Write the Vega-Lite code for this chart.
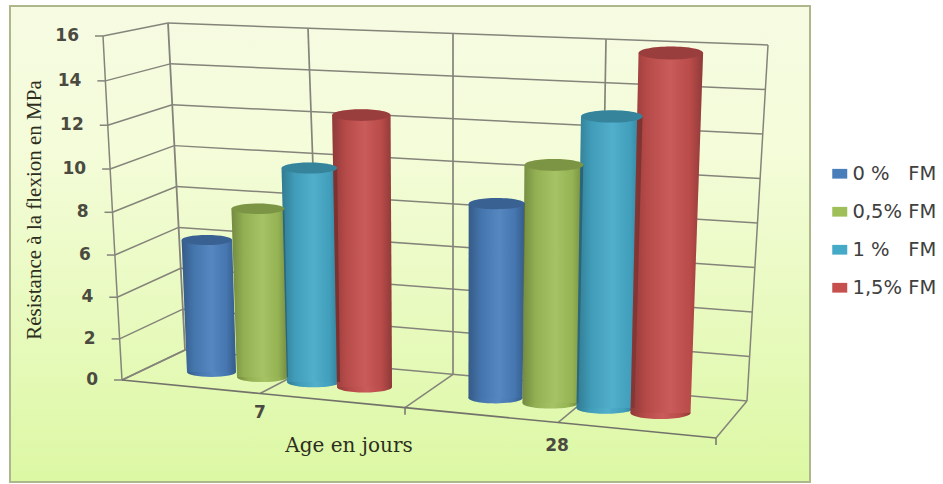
{
  "$schema": "https://vega.github.io/schema/vega-lite/v6.json",
  "width": 800,
  "height": 476,
  "padding": {"left": 10, "top": 6, "right": 133, "bottom": 2},
  "autosize": {"type": "none"},
  "background": "#ffffff",
  "view": {
    "stroke": "#aeb78c",
    "strokeWidth": 2,
    "fill": {
      "gradient": "linear",
      "x1": 0, "y1": 0, "x2": 0, "y2": 1,
      "stops": [
        {"offset": 0, "color": "#f6fbe2"},
        {"offset": 0.3, "color": "#f4fcd9"},
        {"offset": 1, "color": "#dcf8a4"}
      ]
    }
  },
  "datasets": {
    "bars": [
      {"age": 7, "fm": "0 %\u00a0\u00a0\u00a0FM", "value": 6.2},
      {"age": 7, "fm": "0,5% FM", "value": 7.8},
      {"age": 7, "fm": "1 %\u00a0\u00a0\u00a0FM", "value": 9.8},
      {"age": 7, "fm": "1,5% FM", "value": 12.3},
      {"age": 28, "fm": "0 %\u00a0\u00a0\u00a0FM", "value": 8.2},
      {"age": 28, "fm": "0,5% FM", "value": 10},
      {"age": 28, "fm": "1 %\u00a0\u00a0\u00a0FM", "value": 12.2},
      {"age": 28, "fm": "1,5% FM", "value": 15}
    ],
    "ticks": [
      {"v": 0}, {"v": 2}, {"v": 4}, {"v": 6}, {"v": 8},
      {"v": 10}, {"v": 12}, {"v": 14}, {"v": 16}
    ],
    "floorLines": [{"t": 0}, {"t": 1}, {"t": 2}, {"t": 3}, {"t": 4}],
    "wallLines": [{"t": 1}, {"t": 2}, {"t": 3}],
    "ages": [{"age": "7", "k": 0}, {"age": "28", "k": 1}],
    "xTitle": [{"label": "Age en jours"}],
    "yTitle": [{"label": "Résistance à la flexion en MPa"}]
  },
  "layer": [
    {
      "data": {"name": "ticks"},
      "transform": [
        {"calculate": "122-19*datum.v/16", "as": "fx"},
        {"calculate": "datum.v-0.003125*datum.v*(16-datum.v)", "as": "fy"},
        {"calculate": "185-17*datum.v/16", "as": "bx"},
        {"calculate": "1.395+0.9506*datum.v", "as": "by"},
        {"calculate": "747+21*datum.v/16", "as": "rx"},
        {"calculate": "-0.977+1.0349*datum.v", "as": "ry"},
        {"calculate": "datum.fx-8", "as": "tx"},
        {"calculate": "datum.fx-24", "as": "lx"}
      ],
      "layer": [
        {
          "mark": {"type": "rule", "color": "#84847a", "strokeWidth": 1.5},
          "encoding": {
            "x": {"field": "fx", "type": "quantitative", "scale": {"domain": [10, 810], "nice": false, "zero": false}, "axis": null},
            "x2": {"field": "bx"},
            "y": {"field": "fy", "type": "quantitative", "scale": {"domain": [-4.744, 17.395], "nice": false, "zero": false}, "axis": null},
            "y2": {"field": "by"}
          }
        },
        {
          "mark": {"type": "rule", "color": "#84847a", "strokeWidth": 1.5},
          "encoding": {
            "x": {"field": "bx", "type": "quantitative", "scale": {"domain": [10, 810], "nice": false, "zero": false}, "axis": null},
            "x2": {"field": "rx"},
            "y": {"field": "by", "type": "quantitative", "scale": {"domain": [-4.744, 17.395], "nice": false, "zero": false}, "axis": null},
            "y2": {"field": "ry"}
          }
        },
        {
          "mark": {"type": "rule", "color": "#84847a", "strokeWidth": 1.5},
          "encoding": {
            "x": {"field": "tx", "type": "quantitative", "scale": {"domain": [10, 810], "nice": false, "zero": false}, "axis": null},
            "x2": {"field": "fx"},
            "y": {"field": "fy", "type": "quantitative", "scale": {"domain": [-4.744, 17.395], "nice": false, "zero": false}, "axis": null}
          }
        },
        {
          "mark": {"type": "line", "color": "#84847a", "strokeWidth": 1.5},
          "encoding": {
            "x": {"field": "fx", "type": "quantitative", "scale": {"domain": [10, 810], "nice": false, "zero": false}, "axis": null},
            "y": {"field": "fy", "type": "quantitative", "scale": {"domain": [-4.744, 17.395], "nice": false, "zero": false}, "axis": null},
            "order": {"field": "v"}
          }
        },
        {
          "mark": {"type": "line", "color": "#84847a", "strokeWidth": 1.8},
          "encoding": {
            "x": {"field": "bx", "type": "quantitative", "scale": {"domain": [10, 810], "nice": false, "zero": false}, "axis": null},
            "y": {"field": "by", "type": "quantitative", "scale": {"domain": [-4.744, 17.395], "nice": false, "zero": false}, "axis": null},
            "order": {"field": "v"}
          }
        },
        {
          "mark": {"type": "line", "color": "#84847a", "strokeWidth": 1.5},
          "encoding": {
            "x": {"field": "rx", "type": "quantitative", "scale": {"domain": [10, 810], "nice": false, "zero": false}, "axis": null},
            "y": {"field": "ry", "type": "quantitative", "scale": {"domain": [-4.744, 17.395], "nice": false, "zero": false}, "axis": null},
            "order": {"field": "v"}
          }
        },
        {
          "mark": {"type": "text", "align": "right", "baseline": "middle", "font": "DejaVu Sans", "fontSize": 17, "color": "#4a4a40", "fontWeight": "bold"},
          "encoding": {
            "x": {"field": "lx", "type": "quantitative", "scale": {"domain": [10, 810], "nice": false, "zero": false}, "axis": null},
            "y": {"field": "fy", "type": "quantitative", "scale": {"domain": [-4.744, 17.395], "nice": false, "zero": false}, "axis": null},
            "text": {"field": "v", "type": "nominal"}
          }
        }
      ]
    },
    {
      "data": {"name": "wallLines"},
      "transform": [
        {"calculate": "[308,453,606][datum.t-1]", "as": "xTop"},
        {"calculate": "[320,453,600][datum.t-1]", "as": "xBot"},
        {"calculate": "(380-(23+(datum.xTop-168)*22/600))/21.5", "as": "yTop"},
        {"calculate": "(380-(350+(datum.xBot-185)*51/562))/21.5", "as": "yBot"}
      ],
      "mark": {"type": "rule", "color": "#84847a", "strokeWidth": 1.7},
      "encoding": {
        "x": {"field": "xTop", "type": "quantitative", "scale": {"domain": [10, 810], "nice": false, "zero": false}, "axis": null},
        "x2": {"field": "xBot"},
        "y": {"field": "yTop", "type": "quantitative", "scale": {"domain": [-4.744, 17.395], "nice": false, "zero": false}, "axis": null},
        "y2": {"field": "yBot"}
      }
    },
    {
      "data": {"name": "floorLines"},
      "transform": [
        {"calculate": "[122,260,405,558,716][datum.t]", "as": "xFront"},
        {"calculate": "[185,320,453,600,747][datum.t]", "as": "xBack"},
        {"calculate": "(380-(380+(datum.xFront-122)*58/594))/21.5", "as": "yFront"},
        {"calculate": "(380-(350+(datum.xBack-185)*51/562))/21.5", "as": "yBack"},
        {"calculate": "datum.yFront-0.33", "as": "yTick"}
      ],
      "layer": [
        {
          "mark": {"type": "rule", "color": "#84847a", "strokeWidth": 1.5},
          "encoding": {
            "x": {"field": "xFront", "type": "quantitative", "scale": {"domain": [10, 810], "nice": false, "zero": false}, "axis": null},
            "x2": {"field": "xBack"},
            "y": {"field": "yFront", "type": "quantitative", "scale": {"domain": [-4.744, 17.395], "nice": false, "zero": false}, "axis": null},
            "y2": {"field": "yBack"}
          }
        },
        {
          "mark": {"type": "line", "color": "#72726a", "strokeWidth": 1.6},
          "encoding": {
            "x": {"field": "xFront", "type": "quantitative", "scale": {"domain": [10, 810], "nice": false, "zero": false}, "axis": null},
            "y": {"field": "yFront", "type": "quantitative", "scale": {"domain": [-4.744, 17.395], "nice": false, "zero": false}, "axis": null}
          }
        },
        {
          "transform": [{"filter": "datum.t==2||datum.t==4"}],
          "mark": {"type": "rule", "color": "#72726a", "strokeWidth": 1.5},
          "encoding": {
            "x": {"field": "xFront", "type": "quantitative", "scale": {"domain": [10, 810], "nice": false, "zero": false}, "axis": null},
            "y": {"field": "yFront", "type": "quantitative", "scale": {"domain": [-4.744, 17.395], "nice": false, "zero": false}, "axis": null},
            "y2": {"field": "yTick"}
          }
        }
      ]
    },
    {
      "data": {"name": "bars"},
      "transform": [
        {"calculate": "datum.age==7?0:1", "as": "i"},
        {"calculate": "indexof(['0 %\u00a0\u00a0\u00a0FM','0,5% FM','1 %\u00a0\u00a0\u00a0FM','1,5% FM'],datum.fm)", "as": "j"},
        {"calculate": "datum.age+'-'+datum.j", "as": "id"},
        {"calculate": "211.5+51*datum.j+datum.i*(284+4*datum.j)", "as": "xb"},
        {"calculate": "49+2*datum.j+5*datum.i", "as": "wb"},
        {"calculate": "datum.xb+datum.value*0.0032*(datum.xb-445)", "as": "xt"},
        {"calculate": "datum.wb*(1+datum.value*0.005)", "as": "wt"},
        {"calculate": "(380-(372+5*datum.j+26*datum.i))/21.5", "as": "yBase"},
        {"calculate": "datum.yBase+datum.value*(21.3+2.4*datum.i+(0.27-0.17*datum.i)*datum.j)/21.5", "as": "yTop"},
        {"calculate": "datum.wb*datum.wb", "as": "sizeBase"},
        {"calculate": "datum.wt*datum.wt", "as": "sizeTop"}
      ],
      "layer": [
        {
          "mark": {"type": "point", "shape": "M-1,0A1,0.2,0,1,0,1,0A1,0.2,0,1,0,-1,0Z", "filled": true, "opacity": 1},
          "encoding": {
            "x": {"field": "xb", "type": "quantitative", "scale": {"domain": [10, 810], "nice": false, "zero": false}, "axis": null},
            "y": {"field": "yBase", "type": "quantitative", "scale": {"domain": [-4.744, 17.395], "nice": false, "zero": false}, "axis": null},
            "size": {"field": "sizeBase", "type": "quantitative", "scale": null},
            "color": {
              "field": "fm", "type": "nominal",
              "scale": {"domain": ["0 %\u00a0\u00a0\u00a0FM", "0,5% FM", "1 %\u00a0\u00a0\u00a0FM", "1,5% FM"], "range": ["#4a7ebb", "#9fbf59", "#45a9c8", "#c5504e"]},
              "legend": {"title": null, "orient": "none", "legendX": 820, "legendY": 158, "symbolType": "M-1,-0.65H1V0.65H-1Z", "symbolSize": 225, "symbolStrokeWidth": 0, "labelFont": "DejaVu Sans", "labelFontSize": 19.5, "labelColor": "#404040", "labelOffset": 3, "rowPadding": 17, "labelLimit": 130}
            }
          }
        },
        {
          "mark": {"type": "point", "shape": "M-1,0A1,0.2,0,1,0,1,0A1,0.2,0,1,0,-1,0Z", "filled": true, "opacity": 1,
            "fill": {"gradient": "linear", "x1": 0, "y1": 0, "x2": 1, "y2": 0, "stops": [
              {"offset": 0, "color": "rgba(0,0,0,0.28)"}, {"offset": 0.22, "color": "rgba(0,0,0,0.08)"},
              {"offset": 0.55, "color": "rgba(255,255,255,0.07)"}, {"offset": 0.82, "color": "rgba(0,0,0,0.06)"}, {"offset": 1, "color": "rgba(0,0,0,0.28)"}]}},
          "encoding": {
            "x": {"field": "xb", "type": "quantitative", "scale": {"domain": [10, 810], "nice": false, "zero": false}, "axis": null},
            "y": {"field": "yBase", "type": "quantitative", "scale": {"domain": [-4.744, 17.395], "nice": false, "zero": false}, "axis": null},
            "size": {"field": "sizeBase", "type": "quantitative", "scale": null}
          }
        },
        {
          "transform": [
            {"fold": ["yBase", "yTop"], "as": ["end", "yEnd"]},
            {"calculate": "datum.end=='yBase'?datum.xb-datum.wb/2:datum.xt-datum.wt/2", "as": "xLeft"},
            {"calculate": "datum.end=='yBase'?datum.xb+datum.wb/2:datum.xt+datum.wt/2", "as": "xRight"}
          ],
          "layer": [
            {
              "mark": {"type": "area", "orient": "horizontal"},
              "encoding": {
                "x": {"field": "xLeft", "type": "quantitative", "stack": null, "scale": {"domain": [10, 810], "nice": false, "zero": false}, "axis": null},
                "x2": {"field": "xRight"},
                "y": {"field": "yEnd", "type": "quantitative", "scale": {"domain": [-4.744, 17.395], "nice": false, "zero": false}, "axis": null},
                "detail": {"field": "id"},
                "color": {"field": "fm", "type": "nominal", "legend": null}
              }
            },
            {
              "mark": {"type": "area", "orient": "horizontal",
                "fill": {"gradient": "linear", "x1": 0, "y1": 0, "x2": 1, "y2": 0, "stops": [
                  {"offset": 0, "color": "rgba(0,0,0,0.28)"}, {"offset": 0.22, "color": "rgba(0,0,0,0.08)"},
                  {"offset": 0.55, "color": "rgba(255,255,255,0.07)"}, {"offset": 0.82, "color": "rgba(0,0,0,0.06)"}, {"offset": 1, "color": "rgba(0,0,0,0.28)"}]}},
              "encoding": {
                "x": {"field": "xLeft", "type": "quantitative", "stack": null, "scale": {"domain": [10, 810], "nice": false, "zero": false}, "axis": null},
                "x2": {"field": "xRight"},
                "y": {"field": "yEnd", "type": "quantitative", "scale": {"domain": [-4.744, 17.395], "nice": false, "zero": false}, "axis": null},
                "detail": {"field": "id"}
              }
            }
          ]
        },
        {
          "mark": {"type": "point", "shape": "M-1,0A1,0.2,0,1,0,1,0A1,0.2,0,1,0,-1,0Z", "filled": true, "opacity": 1},
          "encoding": {
            "x": {"field": "xt", "type": "quantitative", "scale": {"domain": [10, 810], "nice": false, "zero": false}, "axis": null},
            "y": {"field": "yTop", "type": "quantitative", "scale": {"domain": [-4.744, 17.395], "nice": false, "zero": false}, "axis": null},
            "size": {"field": "sizeTop", "type": "quantitative", "scale": null},
            "color": {"field": "fm", "type": "nominal", "legend": null}
          }
        },
        {
          "mark": {"type": "point", "shape": "M-1,0A1,0.2,0,1,0,1,0A1,0.2,0,1,0,-1,0Z", "filled": true, "opacity": 0.22, "fill": "#000000"},
          "encoding": {
            "x": {"field": "xt", "type": "quantitative", "scale": {"domain": [10, 810], "nice": false, "zero": false}, "axis": null},
            "y": {"field": "yTop", "type": "quantitative", "scale": {"domain": [-4.744, 17.395], "nice": false, "zero": false}, "axis": null},
            "size": {"field": "sizeTop", "type": "quantitative", "scale": null}
          }
        }
      ]
    },
    {
      "data": {"name": "ages"},
      "transform": [
        {"calculate": "[260,557][datum.k]", "as": "xLabel"},
        {"calculate": "(380-[413,446][datum.k])/21.5", "as": "yLabel"}
      ],
      "mark": {"type": "text", "align": "center", "baseline": "middle", "font": "DejaVu Sans", "fontSize": 17, "color": "#4a4a40", "fontWeight": "bold"},
      "encoding": {
        "x": {"field": "xLabel", "type": "quantitative", "scale": {"domain": [10, 810], "nice": false, "zero": false}, "axis": null},
        "y": {"field": "yLabel", "type": "quantitative", "scale": {"domain": [-4.744, 17.395], "nice": false, "zero": false}, "axis": null},
        "text": {"field": "age", "type": "nominal"}
      }
    },
    {
      "data": {"name": "xTitle"},
      "transform": [
        {"calculate": "349", "as": "xPos"},
        {"calculate": "(380-446)/21.5", "as": "yPos"}
      ],
      "mark": {"type": "text", "align": "center", "baseline": "middle", "font": "DejaVu Serif", "fontSize": 20, "color": "#2e2e20"},
      "encoding": {
        "x": {"field": "xPos", "type": "quantitative", "scale": {"domain": [10, 810], "nice": false, "zero": false}, "axis": null},
        "y": {"field": "yPos", "type": "quantitative", "scale": {"domain": [-4.744, 17.395], "nice": false, "zero": false}, "axis": null},
        "text": {"field": "label", "type": "nominal"}
      }
    },
    {
      "data": {"name": "yTitle"},
      "transform": [
        {"calculate": "35", "as": "xPos"},
        {"calculate": "(380-210)/21.5", "as": "yPos"}
      ],
      "mark": {"type": "text", "align": "center", "baseline": "middle", "angle": 270, "font": "Liberation Serif", "fontSize": 21, "color": "#2e2e20"},
      "encoding": {
        "x": {"field": "xPos", "type": "quantitative", "scale": {"domain": [10, 810], "nice": false, "zero": false}, "axis": null},
        "y": {"field": "yPos", "type": "quantitative", "scale": {"domain": [-4.744, 17.395], "nice": false, "zero": false}, "axis": null},
        "text": {"field": "label", "type": "nominal"}
      }
    }
  ]
}
